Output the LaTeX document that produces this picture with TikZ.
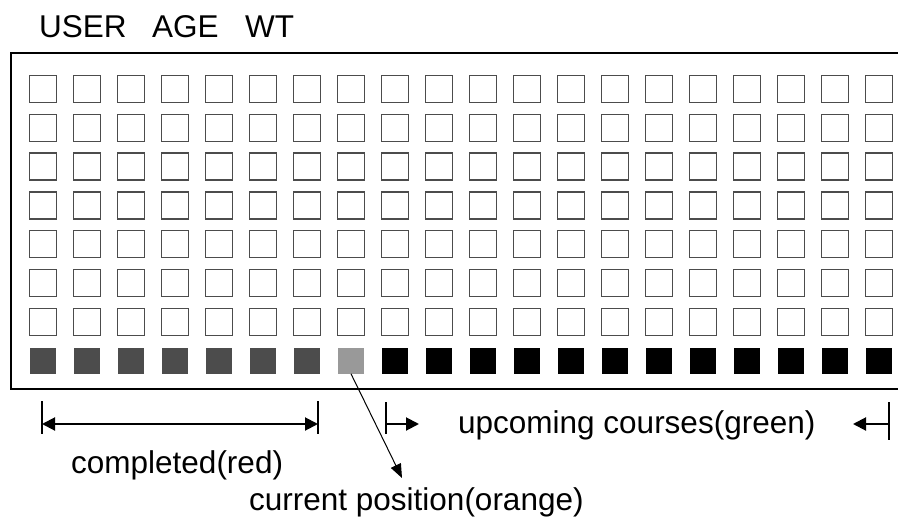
\documentclass[tikz,border=0pt]{standalone}
\usepackage{fontspec}
\setmainfont{Liberation Sans}
\usetikzlibrary{arrows.meta}

\begin{document}
\begin{tikzpicture}[x=1pt,y=-1pt]
\useasboundingbox (0,0) rectangle (898,517);
\tikzset{
    box/.style={rectangle,draw=black!70,line width=1.3pt,minimum size=27pt,inner sep=0pt},
    full/.style={rectangle,minimum size=26pt,inner sep=0pt},
    tick/.style={line width=2pt},
    dim/.style={line width=2pt,-{Triangle[length=13pt,width=13pt]}}
}
\begin{scope}[every node/.style={font=\fontsize{31.5}{36}\selectfont,inner sep=0pt,anchor=base west}]
    \node (U) at (39,37) {USER};
    \node (A) at (152,37) {AGE};
    \node (W) at (245,37) {WT};
    \node (C) at (71,473) {completed(red)};
    \node (G) at (458,433) {upcoming courses(green)};
    \node (P) at (249,510) {current position(orange)};
\end{scope}

% frame, open on the right
\draw[line width=2pt] (899,53) -| (11,389) -- (899,389);

% empty squares
\foreach \i in {0,...,19}
    \foreach \j in {0,...,6}
        \node[box] (s-\i-\j) at (43+44*\i,89+38.8*\j) {};

% last row
\foreach \i in {0,...,6}
    \node[full,fill=black!70] (s-\i-7) at (43+44*\i,360.6) {};
\node[full,fill=black!40] (s-7-7) at (351,360.6) {};
\foreach \i in {8,...,19}
    \node[full,fill=black] (s-\i-7) at (43+44*\i,360.6) {};

% dimension lines
\coordinate (L1) at (42,424);
\coordinate (R1) at (318,424);
\coordinate (L2) at (386,424);
\coordinate (R2) at (889,424);
\coordinate (L2e) at (419,424);
\coordinate (R2e) at (853,424);
\draw[tick] ([yshift=23pt]L1) -- ([yshift=-10pt]L1);
\draw[tick] ([yshift=23pt]R1) -- ([yshift=-10pt]R1);
\draw[tick] ([yshift=22pt]L2) -- ([yshift=-10pt]L2);
\draw[tick] ([yshift=22pt]R2) -- ([yshift=-16pt]R2);
\draw[dim,{Triangle[length=13pt,width=13pt]}-{Triangle[length=13pt,width=13pt]}] (L1) -- (R1);
\draw[dim] (L2) -- (L2e);
\draw[dim] (R2) -- (R2e);

% pointer to the current square
\coordinate (T) at (402,478);
\draw[line width=1pt,-{Triangle[length=14pt,width=11pt]}] (s-7-7.south) -- (T);
\end{tikzpicture}
\end{document}
